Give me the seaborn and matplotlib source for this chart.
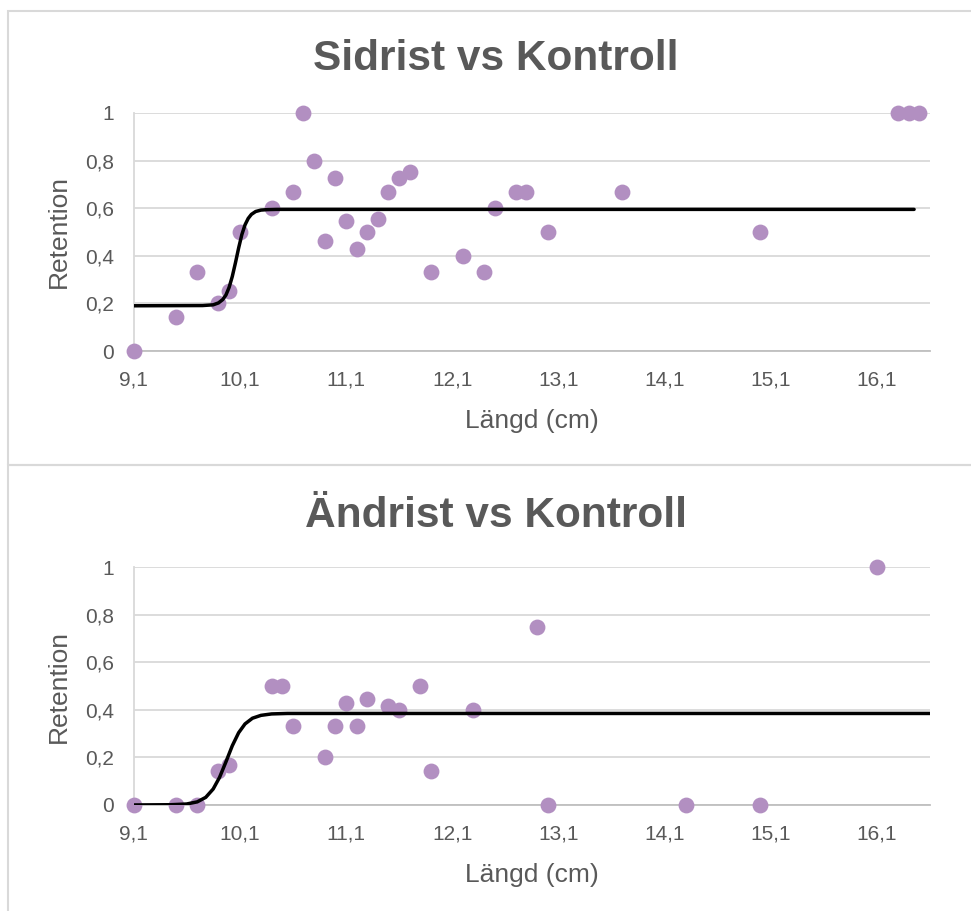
import matplotlib
matplotlib.use("Agg")
import matplotlib.pyplot as plt
from matplotlib.patches import Rectangle
import seaborn as sns
import pandas as pd

# Sidrist vs Kontroll: observed retention per length class
sid_length = [9.1, 9.5, 9.7, 9.9, 10.0, 10.1, 10.4, 10.6, 10.7, 10.8, 10.9,
              11.0, 11.1, 11.2, 11.3, 11.4, 11.5, 11.6, 11.7, 11.9, 12.2,
              12.4, 12.5, 12.7, 12.8, 13.0, 13.7, 15.0, 16.3, 16.4, 16.5]
sid_retention = [0, 0.143, 0.333, 0.2, 0.25, 0.5, 0.6, 0.667, 1, 0.8, 0.462,
                 0.727, 0.545, 0.429, 0.5, 0.556, 0.667, 0.727, 0.75, 0.333, 0.4,
                 0.333, 0.6, 0.667, 0.667, 0.5, 0.667, 0.5, 1, 1, 1]
# fitted selection curve
sid_fit_length = [9.1, 9.75, 9.85, 9.9, 9.94, 9.97, 10.0, 10.03, 10.06, 10.09,
                  10.12, 10.15, 10.18, 10.21, 10.25, 10.3, 10.36, 10.45, 16.45]
sid_fit_retention = [0.19, 0.191, 0.194, 0.202, 0.216, 0.235, 0.267, 0.313, 0.371,
                     0.433, 0.489, 0.53, 0.557, 0.574, 0.586, 0.592, 0.594, 0.595, 0.595]

# Ändrist vs Kontroll
and_length = [9.1, 9.5, 9.7, 9.9, 10.0, 10.4, 10.5, 10.6, 10.9, 11.0, 11.1,
              11.2, 11.3, 11.5, 11.6, 11.8, 11.9, 12.3, 12.9, 13.0, 14.3, 15.0, 16.1]
and_retention = [0, 0, 0, 0.143, 0.167, 0.5, 0.5, 0.333, 0.2, 0.333, 0.429,
                 0.333, 0.444, 0.417, 0.4, 0.5, 0.143, 0.4, 0.75, 0, 0, 0, 1]
and_fit_length = [9.1, 9.45, 9.6, 9.7, 9.78, 9.85, 9.91, 9.97, 10.03, 10.09,
                  10.15, 10.22, 10.3, 10.4, 10.55, 16.6]
and_fit_retention = [0, 0.001, 0.004, 0.013, 0.032, 0.067, 0.116, 0.181, 0.249,
                     0.304, 0.341, 0.365, 0.377, 0.383, 0.385, 0.385]

x_ticks = [9.1, 10.1, 11.1, 12.1, 13.1, 14.1, 15.1, 16.1]
x_tick_labels = ["9,1", "10,1", "11,1", "12,1", "13,1", "14,1", "15,1", "16,1"]
y_ticks = [0, 0.2, 0.4, 0.6, 0.8, 1]
y_tick_labels = ["0", "0,2", "0,4", "0,6", "0,8", "1"]

TEXT = "#595959"
POINT = "#B28FC1"
GRID = "#D9D9D9"

sns.set_style("white")
plt.rcParams["font.family"] = ["Liberation Sans", "DejaVu Sans"]

fig = plt.figure(figsize=(9.71, 9.11), dpi=100)

# chart area frames
fig.add_artist(Rectangle((0.0082, 0.4896), 1.05, 0.4983, transform=fig.transFigure,
                         fill=False, edgecolor=GRID, lw=1.5))
fig.add_artist(Rectangle((0.0082, -0.05), 1.05, 0.5396, transform=fig.transFigure,
                         fill=False, edgecolor=GRID, lw=1.5))

panels = [
    ("Sidrist vs Kontroll", sid_length, sid_retention, sid_fit_length, sid_fit_retention,
     [0.1375, 0.6147, 0.8203, 0.2613], 31),
    ("Ändrist vs Kontroll", and_length, and_retention, and_fit_length, and_fit_retention,
     [0.1375, 0.1164, 0.8203, 0.2609], 29),
]

for title, xs, ys, fx, fy, rect, tpad in panels:
    ax = fig.add_axes(rect)
    pts = pd.DataFrame({"Längd": xs, "Retention": ys})
    fit = pd.DataFrame({"Längd": fx, "Retention": fy})
    sns.scatterplot(data=pts, x="Längd", y="Retention", ax=ax, color=POINT,
                    s=130, linewidth=0, clip_on=False, zorder=3)
    sns.lineplot(data=fit, x="Längd", y="Retention", ax=ax, color="black",
                 lw=2.5, estimator=None, zorder=4)
    ax.set_xlim(9.1, 16.6)
    ax.set_ylim(0, 1)
    ax.set_xticks(x_ticks, x_tick_labels)
    ax.set_yticks(y_ticks, y_tick_labels)
    ax.tick_params(length=0, pad=14, labelsize=15, colors=TEXT)
    ax.yaxis.grid(True, color=GRID, lw=1.3)
    ax.set_axisbelow(True)
    for side in ["top", "right"]:
        ax.spines[side].set_visible(False)
    ax.spines["left"].set_color(GRID)
    ax.spines["left"].set_linewidth(1.3)
    ax.spines["bottom"].set_color("#BFBFBF")
    ax.spines["bottom"].set_linewidth(1.3)
    ax.set_xlabel("Längd (cm)", fontsize=19, color=TEXT, labelpad=14)
    ax.set_ylabel("Retention", fontsize=19, color=TEXT, labelpad=10)
    ax.set_title(title, x=0.4545, pad=tpad, fontsize=30.5, fontweight="bold", color=TEXT)

fig.savefig("out.png", dpi=100)
